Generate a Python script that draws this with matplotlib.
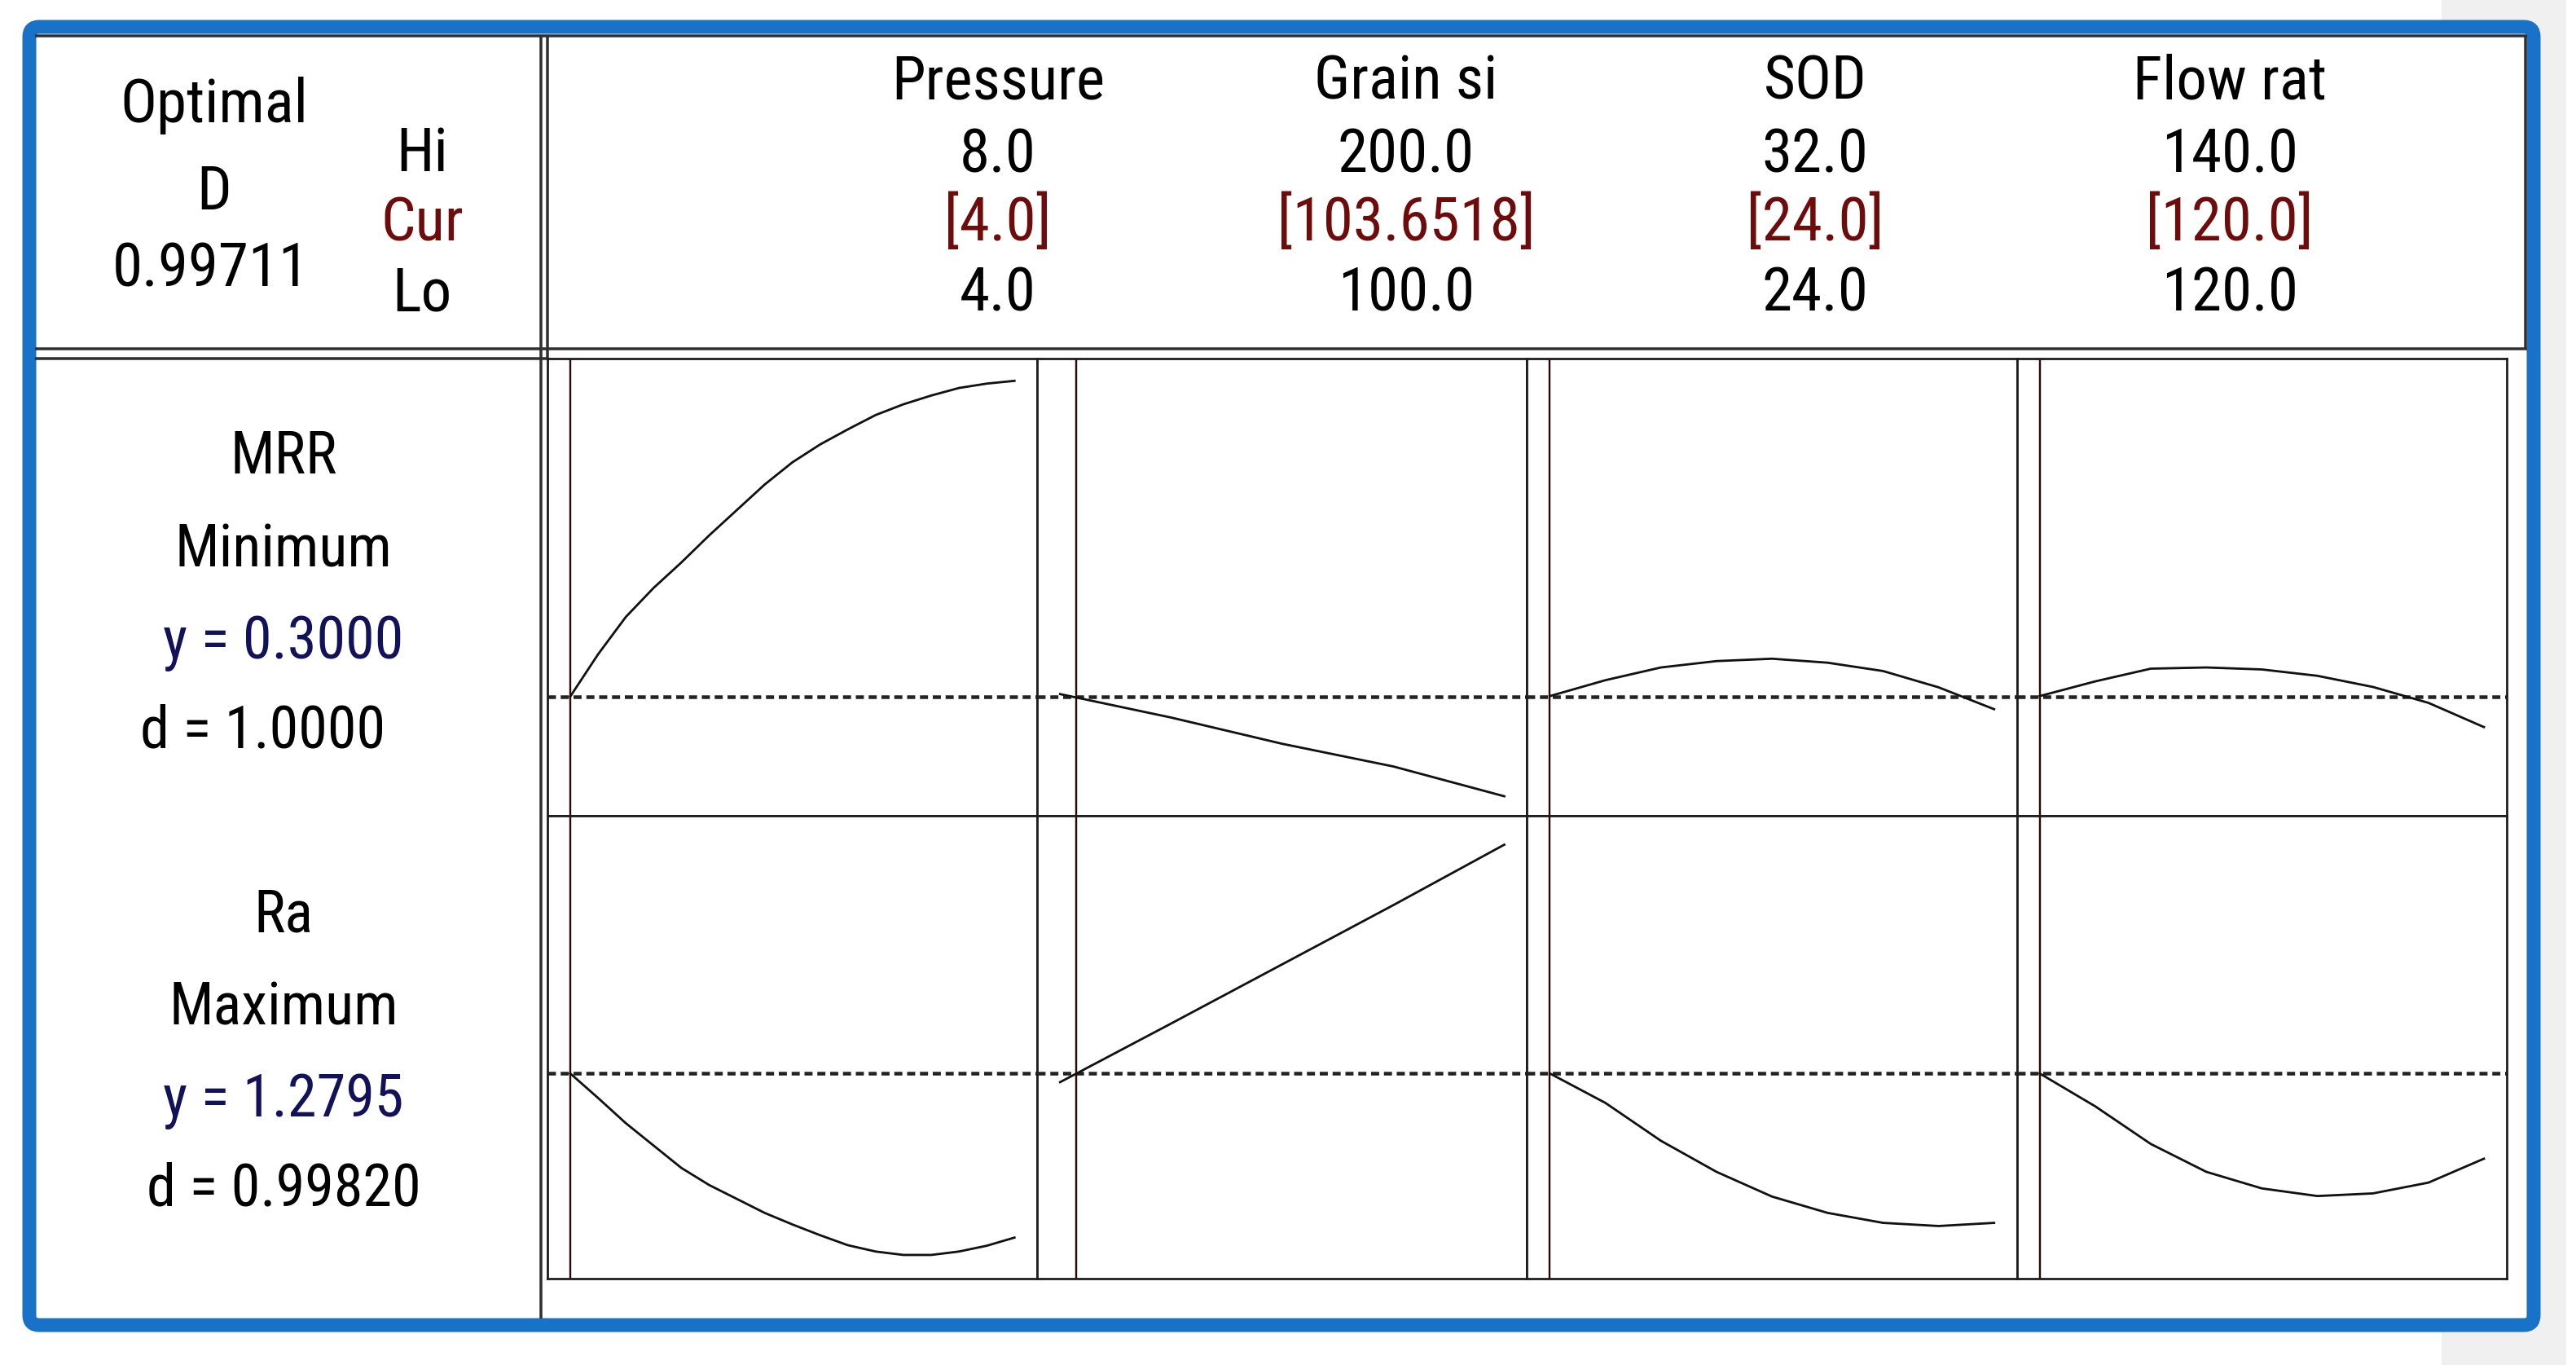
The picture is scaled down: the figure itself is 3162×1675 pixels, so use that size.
import matplotlib
matplotlib.use('Agg')
import matplotlib.pyplot as plt
from matplotlib import font_manager
from matplotlib.patches import FancyBboxPatch, Rectangle

# factor settings shown in the header (Hi / Cur / Lo)
factors = ['Pressure', 'Grain si', 'SOD', 'Flow rat']
hi_vals = [8.0, 200.0, 32.0, 140.0]
cur_vals = [4.0, 103.6518, 24.0, 120.0]
lo_vals = [4.0, 100.0, 24.0, 120.0]
cur_labels = ['[4.0]', '[103.6518]', '[24.0]', '[120.0]']

# responses
responses = ['MRR', 'Ra']
goals = ['Minimum', 'Maximum']
y_pred = [0.3000, 1.2795]
d_labels = ['1.0000', '0.99820']
D_comp = 0.99711

# response traces
pressure_x = [4.0, 4.25, 4.5, 4.75, 5.0, 5.25, 5.5, 5.75, 6.0,
              6.25, 6.5, 6.75, 7.0, 7.25, 7.5, 7.75, 8.0]
mrr_pressure = [0.300, 0.406, 0.500, 0.573, 0.637, 0.705, 0.769, 0.833, 0.889,
                0.934, 0.972, 1.008, 1.035, 1.057, 1.076, 1.087, 1.094]
ra_pressure = [1.280, 1.187, 1.091, 1.006, 0.921, 0.856, 0.803, 0.750, 0.706,
               0.665, 0.627, 0.603, 0.590, 0.590, 0.603, 0.625, 0.656]

grain_x = [100, 125, 150, 175, 200]
mrr_grain = [0.306, 0.247, 0.181, 0.124, 0.049]
ra_grain = [1.247, 1.470, 1.695, 1.920, 2.150]

sod_x = [24, 25, 26, 27, 28, 29, 30, 31, 32]
mrr_sod = [0.301, 0.341, 0.373, 0.389, 0.395, 0.385, 0.364, 0.323, 0.268]
ra_sod = [1.280, 1.168, 1.024, 0.906, 0.812, 0.750, 0.712, 0.700, 0.712]

flow_x = [120, 122.5, 125, 127.5, 130, 132.5, 135, 137.5, 140]
mrr_flow = [0.301, 0.338, 0.370, 0.373, 0.368, 0.352, 0.324, 0.284, 0.223]
ra_flow = [1.280, 1.155, 1.012, 0.906, 0.843, 0.814, 0.824, 0.865, 0.956]

traces = [
    [(pressure_x, mrr_pressure), (grain_x, mrr_grain), (sod_x, mrr_sod), (flow_x, mrr_flow)],
    [(pressure_x, ra_pressure), (grain_x, ra_grain), (sod_x, ra_sod), (flow_x, ra_flow)],
]
row_ylims = [(0.0, 1.15), (0.5, 2.26)]

names = {f.name for f in font_manager.fontManager.ttflist}
fam = 'Liberation Sans'
for cand in ['Liberation Sans Narrow', 'Roboto Condensed', 'Open Sans Condensed']:
    if cand in names:
        fam = cand
        break
plt.rcParams['font.family'] = [fam, 'DejaVu Sans']

W, H = 3162, 1675
px = 0.72  # points per pixel at dpi 100
blue = '#1872c8'
red = '#6e0c0c'
navy = '#12125a'

fig = plt.figure(figsize=(W / 100, H / 100), dpi=100)
bg = fig.add_axes([0, 0, 1, 1])
bg.set_xlim(0, W)
bg.set_ylim(H, 0)
bg.axis('off')

# page strip + blue rounded frame
bg.add_patch(Rectangle((2997, 0), 153, H, color='#f0f0f0', lw=0))
bg.add_patch(FancyBboxPatch((36, 33), 3110 - 36, 1626 - 33,
                            boxstyle='round,pad=0,rounding_size=12',
                            fc='white', ec=blue, lw=17 * px))

line_kw = dict(color='#303030', lw=3.5 * px, solid_capstyle='butt')
bg.plot([43, 3102], [44, 44], **line_kw)
bg.plot([43, 3102], [428, 428], **line_kw)
bg.plot([43, 672], [440, 440], **line_kw)
bg.plot([664, 664], [44, 1618], **line_kw)
bg.plot([672, 672], [44, 440], **line_kw)
bg.plot([3100, 3100], [44, 428], **line_kw)

# header texts
hs = 54
bg.text(263, 150, 'Optimal', fontsize=hs, ha='center', va='baseline')
bg.text(263, 257, 'D', fontsize=hs, ha='center', va='baseline')
bg.text(259, 352, '%.5f' % D_comp, fontsize=hs, ha='center', va='baseline')
bg.text(518, 210, 'Hi', fontsize=hs, ha='center', va='baseline')
bg.text(518, 295, 'Cur', fontsize=hs, ha='center', va='baseline', color=red)
bg.text(518, 382, 'Lo', fontsize=hs, ha='center', va='baseline')

col_text_x = [1225, 1726, 2228, 2737]
for i, name in enumerate(factors):
    cx = col_text_x[i]
    bg.text(cx, 121, name, fontsize=hs, ha='center', va='baseline')
    bg.text(cx, 211, '%.1f' % hi_vals[i], fontsize=hs, ha='center', va='baseline')
    bg.text(cx, 295, cur_labels[i], fontsize=hs, ha='center', va='baseline', color=red)
    bg.text(cx, 381, '%.1f' % lo_vals[i], fontsize=hs, ha='center', va='baseline')

# response labels on the left
ls = 52
row_base = [581, 1143]
for r in range(2):
    b = row_base[r]
    bg.text(348, b, responses[r], fontsize=ls, ha='center', va='baseline')
    bg.text(348, b + 114, goals[r], fontsize=ls, ha='center', va='baseline')
    bg.text(348, b + 227, 'y = %.4f' % y_pred[r], fontsize=ls, ha='center',
            va='baseline', color=navy)
    bg.text(323 if r == 0 else 348, b + 337, 'd = ' + d_labels[r], fontsize=ls,
            ha='center', va='baseline')

# panels
plot_l, plot_r = 672, 3077
row_edges = [440, 1001, 1569]
col_w = (plot_r - plot_l) / 4
pad_frac = 28 / (col_w - 56)

for r in range(2):
    y0, y1 = row_edges[r], row_edges[r + 1]
    for c in range(4):
        x0 = plot_l + c * col_w
        ax = fig.add_axes([x0 / W, 1 - y1 / H, col_w / W, (y1 - y0) / H])
        xs, ys = traces[r][c]
        lo, hi = lo_vals[c], hi_vals[c]
        span = hi - lo
        ax.set_xlim(lo - pad_frac * span, hi + pad_frac * span)
        ax.set_ylim(*row_ylims[r])
        ax.axvline(cur_vals[c], color='#2a0808', lw=2.4 * px)
        ax.axhline(y_pred[r], color='#222222', lw=4.5 * px, ls=(0, (2.2, 1.3)))
        ax.plot(xs, ys, color='#111111', lw=2.8 * px)
        ax.set_xticks([])
        ax.set_yticks([])
        for s in ax.spines.values():
            s.set_linewidth(2.8 * px)
            s.set_color('#1e1e1e')

fig.savefig('out.png', dpi=100)
